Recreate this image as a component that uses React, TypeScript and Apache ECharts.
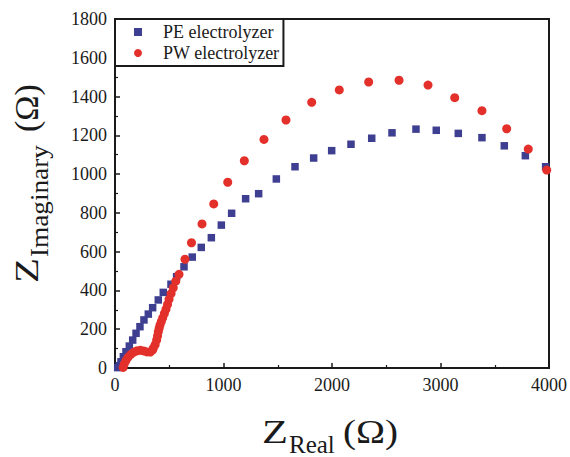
import React, { useEffect, useRef } from "react";
import * as echarts from "echarts";

const seriesNames = ["PE electrolyzer", "PW electrolyzer"];

// PE electrolyzer (blue squares)
const peReal = [25, 40, 55, 77, 101, 132, 163, 194, 230, 267, 307, 347, 399, 445, 516, 568, 636, 712, 795, 888, 980, 1075, 1204, 1324, 1487, 1659, 1831, 1997, 2175, 2366, 2553, 2774, 2961, 3164, 3382, 3588, 3782, 3969];
const peImag = [2, 12, 32, 58, 84, 113, 144, 179, 213, 248, 278, 311, 351, 390, 432, 471, 522, 572, 622, 672, 737, 798, 873, 899, 975, 1038, 1083, 1121, 1154, 1185, 1213, 1232, 1226, 1210, 1188, 1146, 1095, 1038];

// PW electrolyzer (red circles)
const pwReal = [75, 85, 100, 120, 145, 175, 205, 235, 265, 295, 325, 345, 353, 370, 384, 392, 399, 407, 415, 427, 440, 455, 470, 484, 498, 517, 537, 560, 590, 645, 705, 802, 910, 1039, 1192, 1373, 1576, 1813, 2067, 2338, 2618, 2885, 3131, 3382, 3610, 3809, 3979];
const pwImag = [3, 20, 38, 55, 70, 82, 89, 91, 88, 83, 82, 92, 102, 120, 144, 165, 187, 205, 222, 240, 259, 281, 303, 328, 354, 384, 414, 448, 483, 561, 646, 743, 846, 958, 1069, 1179, 1279, 1370, 1434, 1475, 1484, 1459, 1394, 1327, 1234, 1129, 1021];

const xMin = 0, xMax = 4000, xStep = 1000;
const yMin = 0, yMax = 1800, yStep = 200;

const SERIF = "'Liberation Serif', 'DejaVu Serif', serif";
const INK = "#1a1a1a";
const BLUE = "#3f3f92";
const RED = "#e3302b";

export default function App() {
  const ref = useRef<HTMLDivElement>(null);
  useEffect(() => {
    if (!ref.current) return;
    const chart = echarts.init(ref.current, null, { renderer: "svg" });
    const peData = peReal.map((x, i) => [x, peImag[i]]);
    const pwData = pwReal.map((x, i) => [x, pwImag[i]]);
    const axisCommon = {
      axisLine: { show: true, onZero: false, lineStyle: { color: INK, width: 2 } },
      axisTick: { show: true, inside: true, length: 5, lineStyle: { color: INK, width: 1.5 } },
      minorTick: { show: true, splitNumber: 2, length: 3, lineStyle: { color: INK, width: 1.2 } },
      splitLine: { show: false },
      axisLabel: { fontFamily: SERIF, fontSize: 18, color: INK, margin: 8, formatter: (v: number) => String(v) },
    };
    chart.setOption({
      animation: false,
      backgroundColor: "#fff",
      grid: {
        left: 115, top: 19, right: 21, bottom: 89,
        show: true, borderColor: INK, borderWidth: 2,
      },
      xAxis: { type: "value", min: xMin, max: xMax, interval: xStep, ...axisCommon },
      yAxis: { type: "value", min: yMin, max: yMax, interval: yStep, ...axisCommon },
      legend: {
        data: seriesNames,
        orient: "vertical",
        left: 115, top: 19,
        backgroundColor: "#fff",
        borderColor: INK, borderWidth: 2, borderRadius: 0,
        padding: [4, 4, 4, 19],
        itemWidth: 8, itemHeight: 8, itemGap: 3,
        textStyle: { fontFamily: SERIF, fontSize: 18, color: INK, padding: [0, 0, 0, 16] },
      },
      series: [
        { name: seriesNames[0], type: "scatter", symbol: "rect", symbolSize: 7.5, itemStyle: { color: BLUE, opacity: 1 }, data: peData },
        { name: seriesNames[1], type: "scatter", symbol: "circle", symbolSize: 9, itemStyle: { color: RED, opacity: 1 }, data: pwData },
      ],
      graphic: [
        { type: "text", x: 262, y: 431.5, scaleX: 1.25, style: { text: "Z", fontFamily: SERIF, fontSize: 34, fill: INK, align: "left", verticalAlign: "middle" } },
        { type: "text", x: 289, y: 444, style: { text: "Real", fontFamily: SERIF, fontSize: 25, fill: INK, align: "left", verticalAlign: "middle" } },
        { type: "text", x: 343, y: 431.5, scaleX: 1.15, style: { text: "(Ω)", fontFamily: SERIF, fontSize: 34, fill: INK, align: "left", verticalAlign: "middle" } },
        { type: "text", x: 26.5, y: 283, rotation: Math.PI / 2, scaleX: 1.2, style: { text: "Z", fontFamily: SERIF, fontSize: 34, fill: INK, align: "left", verticalAlign: "middle" } },
        { type: "text", x: 39.6, y: 257, rotation: Math.PI / 2, scaleX: 1.09, style: { text: "Imaginary", fontFamily: SERIF, fontSize: 25, fill: INK, align: "left", verticalAlign: "middle" } },
        { type: "text", x: 26.5, y: 132, rotation: Math.PI / 2, style: { text: "(Ω)", fontFamily: SERIF, fontSize: 34, fill: INK, align: "left", verticalAlign: "middle" } },
      ],
    });
    return () => chart.dispose();
  }, []);
  return <div ref={ref} style={{ position: "absolute", left: 0, top: 0, width: 570, height: 457 }} />;
}
